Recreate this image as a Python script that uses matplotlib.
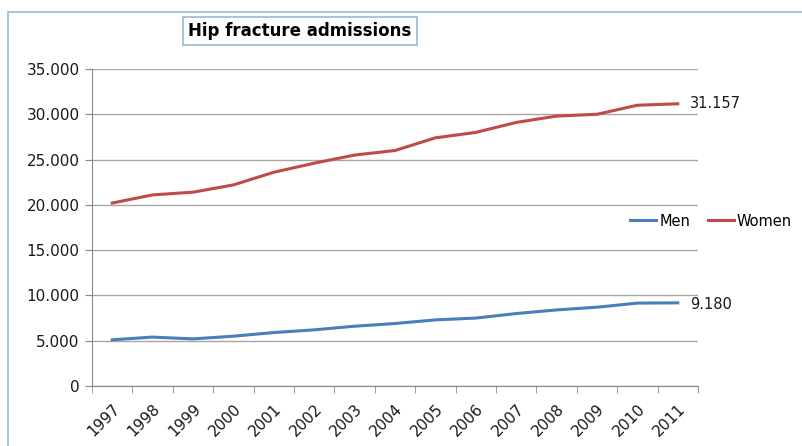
import matplotlib.pyplot as plt
from matplotlib.patches import Rectangle
from matplotlib.ticker import FuncFormatter, FixedLocator
from matplotlib.transforms import ScaledTranslation

years = [str(y) for y in range(1997, 2012)]
men = [5100, 5400, 5200, 5500, 5900, 6200, 6600, 6900, 7300, 7500, 8000, 8400, 8700, 9150, 9180]
women = [20200, 21100, 21400, 22200, 23600, 24600, 25500, 26000, 27400, 28000, 29100, 29800, 30000, 31000, 31157]
y_ticks = [0, 5000, 10000, 15000, 20000, 25000, 30000, 35000]

blue = "#4a7ebb"
red = "#be4b48"
font = ["DejaVu Sans"]
txt = "#1a1a1a"

fig = plt.figure(figsize=(8.03, 4.46), dpi=100)
fig.patches.append(Rectangle((8 / 803, -0.1), 1.0, (446 - 12) / 446 + 0.1,
                             transform=fig.transFigure, fill=False,
                             edgecolor="#9bb7d9", linewidth=1.2))

ax = fig.add_axes([92 / 803, 60 / 446, 606 / 803, 317 / 446])
x = list(range(len(years)))
ax.plot(x, men, color=blue, linewidth=2.2, label="Men")
ax.plot(x, women, color=red, linewidth=2.2, label="Women")

ax.set_xlim(-0.5, len(years) - 0.5)
ax.set_ylim(0, 35000)
ax.set_yticks(y_ticks)
ax.yaxis.set_major_formatter(FuncFormatter(lambda v, p: "0" if v == 0 else f"{v:,.0f}".replace(",", ".")))
ax.grid(axis="y", color="#a6a6a6", linewidth=1)
ax.set_axisbelow(True)

ax.set_xticks(x)
ax.set_xticklabels(years, rotation=45, ha="right", rotation_mode="anchor",
                   fontfamily=font, fontsize=11, color=txt)
shift = ScaledTranslation(-5 / 100, -2 / 100, fig.dpi_scale_trans)
for lab in ax.get_xticklabels():
    lab.set_transform(lab.get_transform() + shift)
ax.xaxis.set_minor_locator(FixedLocator([i - 0.5 for i in range(len(years) + 1)]))
ax.tick_params(axis="x", which="major", length=0, pad=11)
ax.tick_params(axis="x", which="minor", length=5, color="#888888")
ax.tick_params(axis="y", length=5, color="#888888", labelsize=11, pad=4, labelcolor=txt)
for lab in ax.get_yticklabels():
    lab.set_fontfamily(font)

for s in ["top", "right"]:
    ax.spines[s].set_visible(False)
ax.spines["left"].set_color("#888888")
ax.spines["bottom"].set_color("#888888")

ax.annotate("31.157", (x[-1], women[-1]), xytext=(9, 0), textcoords="offset points",
            va="center", fontsize=10.5, fontfamily=font, color=txt, annotation_clip=False)
ax.annotate("9.180", (x[-1], men[-1]), xytext=(9, -1), textcoords="offset points",
            va="center", fontsize=10.5, fontfamily=font, color=txt, annotation_clip=False)

ax.legend(loc="center left", bbox_to_anchor=(617 / 803, 225 / 446), bbox_transform=fig.transFigure,
          ncol=2, frameon=False, handlelength=1.8, handletextpad=0.2, columnspacing=1.2,
          prop={"family": font, "size": 10.5})

fig.text(300 / 803, 1 - 31 / 446, "Hip fracture admissions", ha="center", va="center",
         fontsize=12, fontweight="bold", fontfamily=font, color="black",
         bbox=dict(boxstyle="square,pad=0.3", facecolor="white", edgecolor="#9bb7d9", linewidth=1.2))

fig.savefig("out.png", dpi=100)
